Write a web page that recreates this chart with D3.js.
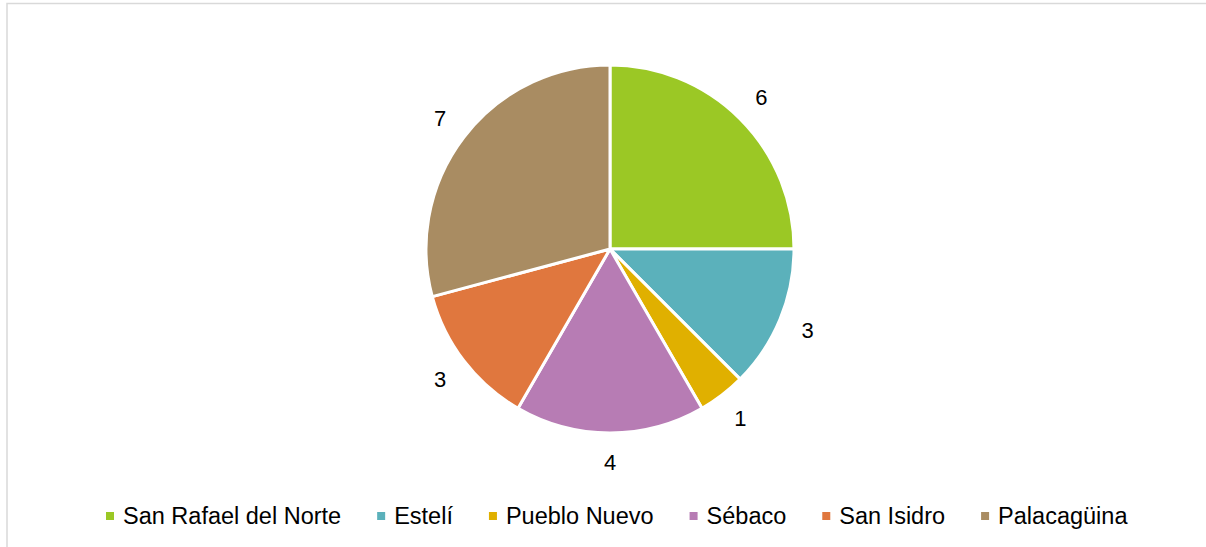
<!DOCTYPE html>
<html>
<head>
<meta charset="utf-8">
<script src="https://cdn.jsdelivr.net/npm/d3@7"></script>
<style>
	body { margin: 0; background: #fff; }
	text { font-family: "Liberation Sans", Arial, sans-serif; }
</style>
</head>
<body>
<svg id="piechart"></svg>
<script>
const categories = ['San Rafael del Norte', 'Estelí', 'Pueblo Nuevo', 'Sébaco', 'San Isidro', 'Palacagüina'];
const values = [6, 3, 1, 4, 3, 7];
const colors = ['#9bc825', '#5bb1bb', '#e0b000', '#b77cb4', '#e0773e', '#a98c62'];

function makeChart() {
	let w = 1206;
	let h = 547;
	let cx = 610, cy = 249, r = 184;

	let chart = d3.select('#piechart')
		.attr('width', w)
		.attr('height', h);

	// frame
	chart.append('rect')
		.attr('x', 7)
		.attr('y', 3.5)
		.attr('width', w + 10)
		.attr('height', h + 10)
		.style('fill', 'none')
		.style('stroke', '#d9d9d9')
		.style('stroke-width', 1.5);

	var color = d3.scaleOrdinal().domain(categories).range(colors);

	var pie = d3.pie().sort(null).value(d => d.value);
	var data = pie(categories.map((c, i) => ({ name: c, value: values[i] })));

	var arc = d3.arc().innerRadius(0).outerRadius(r);
	var labelArc = d3.arc().innerRadius(214).outerRadius(214);

	let g = chart.append('g').attr('transform', `translate(${cx}, ${cy})`);

	g.selectAll('path')
		.data(data)
		.enter()
		.append('path')
		.attr('d', arc)
		.style('fill', d => color(d.data.name))
		.style('stroke', '#fff')
		.style('stroke-width', 3)
		.style('stroke-linejoin', 'round');

	// value labels
	g.selectAll('text')
		.data(data)
		.enter()
		.append('text')
		.attr('x', d => labelArc.centroid(d)[0])
		.attr('y', d => labelArc.centroid(d)[1])
		.attr('dy', '0.33em')
		.style('text-anchor', 'middle')
		.style('font-size', '22px')
		.style('fill', '#000')
		.text(d => d.data.value);

	// legend
	let legend = chart.append('g');
	let x = 106;
	categories.forEach((c, i) => {
		legend.append('rect')
			.attr('x', x)
			.attr('y', 512)
			.attr('width', 8)
			.attr('height', 8)
			.style('fill', color(c));
		let t = legend.append('text')
			.attr('x', x + 17)
			.attr('y', 524)
			.style('font-size', '23.5px')
			.style('fill', '#000')
			.text(c);
		x += 17 + t.node().getComputedTextLength() + 36;
	});
}

window.onload = function () {
	makeChart();
}
</script>
</body>
</html>
